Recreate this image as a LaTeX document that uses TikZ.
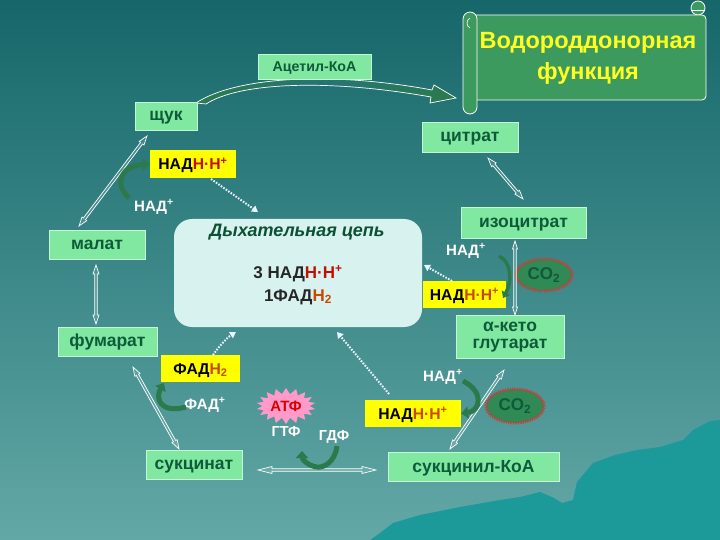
\documentclass[tikz,border=0pt]{standalone}
\usepackage{fontspec}
\setmainfont{Liberation Sans}
\usetikzlibrary{calc,arrows.meta,shapes.symbols,shapes.geometric}
\definecolor{bgtop}{HTML}{16676A}
\definecolor{bgbot}{HTML}{62A8A6}
\definecolor{mount}{HTML}{1C9A9A}
\definecolor{gfill}{HTML}{80E8A0}
\definecolor{gborder}{HTML}{C4F7D2}
\definecolor{gtext}{HTML}{0E5A3A}
\definecolor{hred}{HTML}{C01000}
\definecolor{horange}{HTML}{C84A00}
\definecolor{scrollg}{HTML}{3C9A5E}
\definecolor{cofg}{HTML}{2C7A4C}
\definecolor{respfill}{HTML}{D8F2F0}
\definecolor{co2fill}{HTML}{2F8A55}
\definecolor{co2red}{HTML}{D03A3A}
\definecolor{atfpink}{HTML}{FF9ACB}
\definecolor{dotwhite}{HTML}{E8F4FF}
\definecolor{yell}{HTML}{FFFF00}
\definecolor{titley}{HTML}{FFFF20}

% narrow double-headed block arrow between two named coordinates
\newcommand\dblarr[5][]{%
  \coordinate (dbA) at (#2);
  \coordinate (dbB) at (#3);
  \coordinate (dbHA) at ($(dbA)!#4!(dbB)$);
  \coordinate (dbHB) at ($(dbB)!#4!(dbA)$);
  \draw[blk,#1] (dbA) -- ($(dbHA)!#5!90:(dbB)$) -- ($(dbHA)!1.3pt!90:(dbB)$)
    -- ($(dbHB)!1.3pt!-90:(dbA)$) -- ($(dbHB)!#5!-90:(dbA)$) -- (dbB)
    -- ($(dbHB)!#5!90:(dbA)$) -- ($(dbHB)!1.3pt!90:(dbA)$)
    -- ($(dbHA)!1.3pt!-90:(dbB)$) -- ($(dbHA)!#5!-90:(dbB)$) -- cycle;}

\tikzset{
  blk/.style={draw=white, line width=0.7pt, fill=white, fill opacity=0.12},
  gboxbase/.style={draw=gborder, line width=0.8pt, fill=gfill, text=gtext,
    font=\bfseries\fontsize{17.5}{18}\selectfont, inner sep=0pt},
  gbox/.style={gboxbase, text height=9.5pt, text depth=0pt},
  ybox/.style={fill=yell, text=black, font=\bfseries\fontsize{15.7}{17}\selectfont,
    inner sep=0pt, text height=11pt, text depth=0pt},
  wlabel/.style={text=white, font=\bfseries\fontsize{15}{17}\selectfont, inner sep=0pt},
  dots/.style={draw=dotwhite, line width=2pt, dash pattern=on 1.6pt off 1.4pt,
    -{Triangle[length=6pt,width=7pt]}},
  cof/.style={draw=cofg, line width=5pt, -{Triangle[length=7pt,width=12pt]}},
  co2/.style={ellipse, fill=co2fill, draw=co2red, line width=3pt,
    dash pattern=on 1.2pt off 1.2pt, text=gtext, inner sep=0pt,
    font=\bfseries\fontsize{17}{18}\selectfont},
}

\begin{document}
\begin{tikzpicture}[x=1pt,y=-1pt]
% background
\shade[top color=bgtop, bottom color=bgbot] (0,0) rectangle (720,540);
\useasboundingbox (0,0) rectangle (720,540);
\fill[mount] (370,540) -- (380,533) -- (393,523) -- (420,515) -- (460,507)
  -- (500,500) -- (520,497) -- (540,492) -- (552,497) -- (562,503) -- (573,500)
  -- (577,482) -- (593,463) -- (615,455) -- (637,450) -- (660,447) -- (683,440)
  -- (693,430) -- (710,421) -- (720,420) -- (720,540) -- cycle;

% scroll
\draw[white, line width=0.8pt, fill=scrollg] (698,8) circle (7);
\draw[white, line width=0.8pt, fill=scrollg, rounded corners=4pt] (470,15) rectangle (706,100);
\draw[white, line width=0.6pt] (692,10) -- (704,10);
\draw[white, line width=0.8pt, fill=scrollg, rounded corners=7pt] (463,12) rectangle (477,114);
\draw[white, line width=0.6pt] (470,28) .. controls (466,26) and (466,20) .. (470,18);
\node[text=titley, font=\bfseries\fontsize{23.5}{30}\selectfont] (title1) at (588,43) {Водороддонорная};
\node[text=titley, font=\bfseries\fontsize{23.5}{30}\selectfont] (title2) at (588,73) {функция};

% acetyl arc
\draw[white, line width=0.7pt, left color=cofg, right color=cofg, middle color=bgtop!80!bgbot]
  (196,103) .. controls (235,77) and (330,71) .. (432,90) -- (434,85) -- (456,98)
  -- (430,103) -- (431,97) .. controls (330,79) and (240,82) .. (206,104) -- cycle;

% nodes
\node[gbox, minimum width=113pt, minimum height=25pt, text height=10pt,
  font=\bfseries\fontsize{14.2}{15}\selectfont] (acetyl) at (314.5,66.5) {Ацетил-КоА};
\node[gbox, minimum width=62pt, minimum height=28pt] (shchuk) at (166,116) {щук};
\node[gbox, minimum width=96pt, minimum height=30pt] (citrat) at (470,137) {цитрат};
\node[ybox, minimum width=86pt, minimum height=28pt] (nadh1) at (193,164) {НАД\textcolor{hred}{Н·Н\textsuperscript{+}}};
\node[wlabel] (nad1) at (154,207) {НАД\textsuperscript{+}};
\node[gbox, minimum width=96pt, minimum height=29pt] (malat) at (97,244.5) {малат};
\node[fill=respfill, rounded corners=18pt, minimum width=248pt, minimum height=108pt] (resp) at (298,273) {};
\node[text=gtext!90!black, font=\bfseries\itshape\fontsize{18}{20}\selectfont] (resptitle) at (297,232) {Дыхательная цепь};
\node[font=\bfseries\fontsize{17}{22}\selectfont, text=black!85] (resptext1) at (298,274)
  {3 НАД\textcolor{hred}{Н·Н\textsuperscript{+}}};
\node[font=\bfseries\fontsize{17}{22}\selectfont, text=black!85] (resptext2) at (298,297)
  {1ФАД\textcolor{horange}{Н\textsubscript{2}}};
\node[gbox, minimum width=125pt, minimum height=31pt] (izocitrat) at (523.5,222.5) {изоцитрат};
\node[wlabel] (nad2) at (466,251) {НАД\textsuperscript{+}};
\node[co2, minimum width=56pt, minimum height=32pt] (co2a) at (544,275) {CO\textsubscript{2}};
\node[ybox, minimum width=83pt, minimum height=27pt] (nadh2) at (464.5,294.5) {НАД\textcolor{horange}{Н·Н\textsuperscript{+}}};
\node[gboxbase, minimum width=108pt, minimum height=43pt] (aketo) at (510,336.5)
  {\begin{tabular}{@{}c@{}}α-кето\\[-1pt]глутарат\end{tabular}};
\node[gbox, minimum width=99pt, minimum height=29pt] (fumarat) at (107.5,341.5) {фумарат};
\node[ybox, minimum width=79pt, minimum height=27pt] (fadh2) at (200.5,368.5) {ФАД\textcolor{horange}{Н\textsubscript{2}}};
\node[wlabel] (fad) at (205,405) {ФАД\textsuperscript{+}};
\node[starburst, starburst points=18, starburst point height=6pt, random starburst=0,
  fill=atfpink, text=red!85!black, font=\bfseries\fontsize{15}{16}\selectfont,
  minimum width=52pt, minimum height=36pt, inner sep=1pt] (atf) at (286,406) {АТФ};
\node[wlabel, font=\bfseries\fontsize{14.5}{16}\selectfont] (gtf) at (286,432) {ГТФ};
\node[wlabel, font=\bfseries\fontsize{14.5}{16}\selectfont] (gdf) at (334,437) {ГДФ};
\node[gbox, minimum width=96pt, minimum height=29pt] (sukcinat) at (194,464.5) {сукцинат};
\node[gbox, minimum width=171pt, minimum height=29pt, text height=11.5pt] (sukkoa) at (473.5,466.5) {сукцинил-КоА};
\node[ybox, minimum width=96pt, minimum height=27pt] (nadh3) at (413,413.5) {НАД\textcolor{horange}{Н·Н\textsuperscript{+}}};
\node[wlabel] (nad3) at (443,377) {НАД\textsuperscript{+}};
\node[co2, minimum width=58pt, minimum height=34pt] (co2b) at (515,406) {CO\textsubscript{2}};

% connector end points
\coordinate (a1s) at (147,136); \coordinate (a1e) at (79,226);
\coordinate (a2s) at (488,158); \coordinate (a2e) at (523,199);
\coordinate (a3s) at (515,241); \coordinate (a3e) at (515,315);
\coordinate (a4s) at (96,265);  \coordinate (a4e) at (96,324);
\coordinate (a5s) at (133,367); \coordinate (a5e) at (179,449);
\coordinate (a6s) at (258,470); \coordinate (a6e) at (376,470);
\coordinate (a7s) at (504,370); \coordinate (a7e) at (450,449);

\dblarr{a1s}{a1e}{9pt}{3pt}
\dblarr{a2s}{a2e}{9pt}{3pt}
\dblarr{a3s}{a3e}{8pt}{2.5pt}
\dblarr{a4s}{a4e}{9pt}{3pt}
\dblarr{a5s}{a5e}{9pt}{3pt}
\dblarr{a6s}{a6e}{14pt}{3.5pt}
\dblarr{a7s}{a7e}{9pt}{3pt}

% dotted arrows to the respiratory chain
\coordinate (d1s) at (211,179); \coordinate (d1e) at (258,212);
\coordinate (d2s) at (452,281); \coordinate (d2e) at (424,265);
\coordinate (d3s) at (213,355); \coordinate (d3e) at (236,332);
\coordinate (d4s) at (389,394); \coordinate (d4e) at (337,332);
\draw[dots] (d1s) -- (d1e);
\draw[dots] (d2s) -- (d2e);
\draw[dots] (d3s) .. controls (220,345) and (228,337) .. (d3e);
\draw[dots] (d4s) -- (d4e);

% cofactor arrows
\draw[cof] (129,198) .. controls (114,184) and (120,166) .. (nadh1.west);
\draw[cof, line width=3.5pt, -{Triangle[length=6pt,width=9pt]}] (499,256) .. controls (512,262) and (512,282) .. (503,298);
\draw[cof] (463,381) .. controls (485,392) and (480,411) .. (nadh3.east);
\draw[cof] (186,407) .. controls (160,414) and (155,398) .. (164,383);
\draw[cof] (337,446) .. controls (335,462) and (324,468) .. (317,467) .. controls (308,466) and (302,459) .. (302,451);
\end{tikzpicture}
\end{document}
